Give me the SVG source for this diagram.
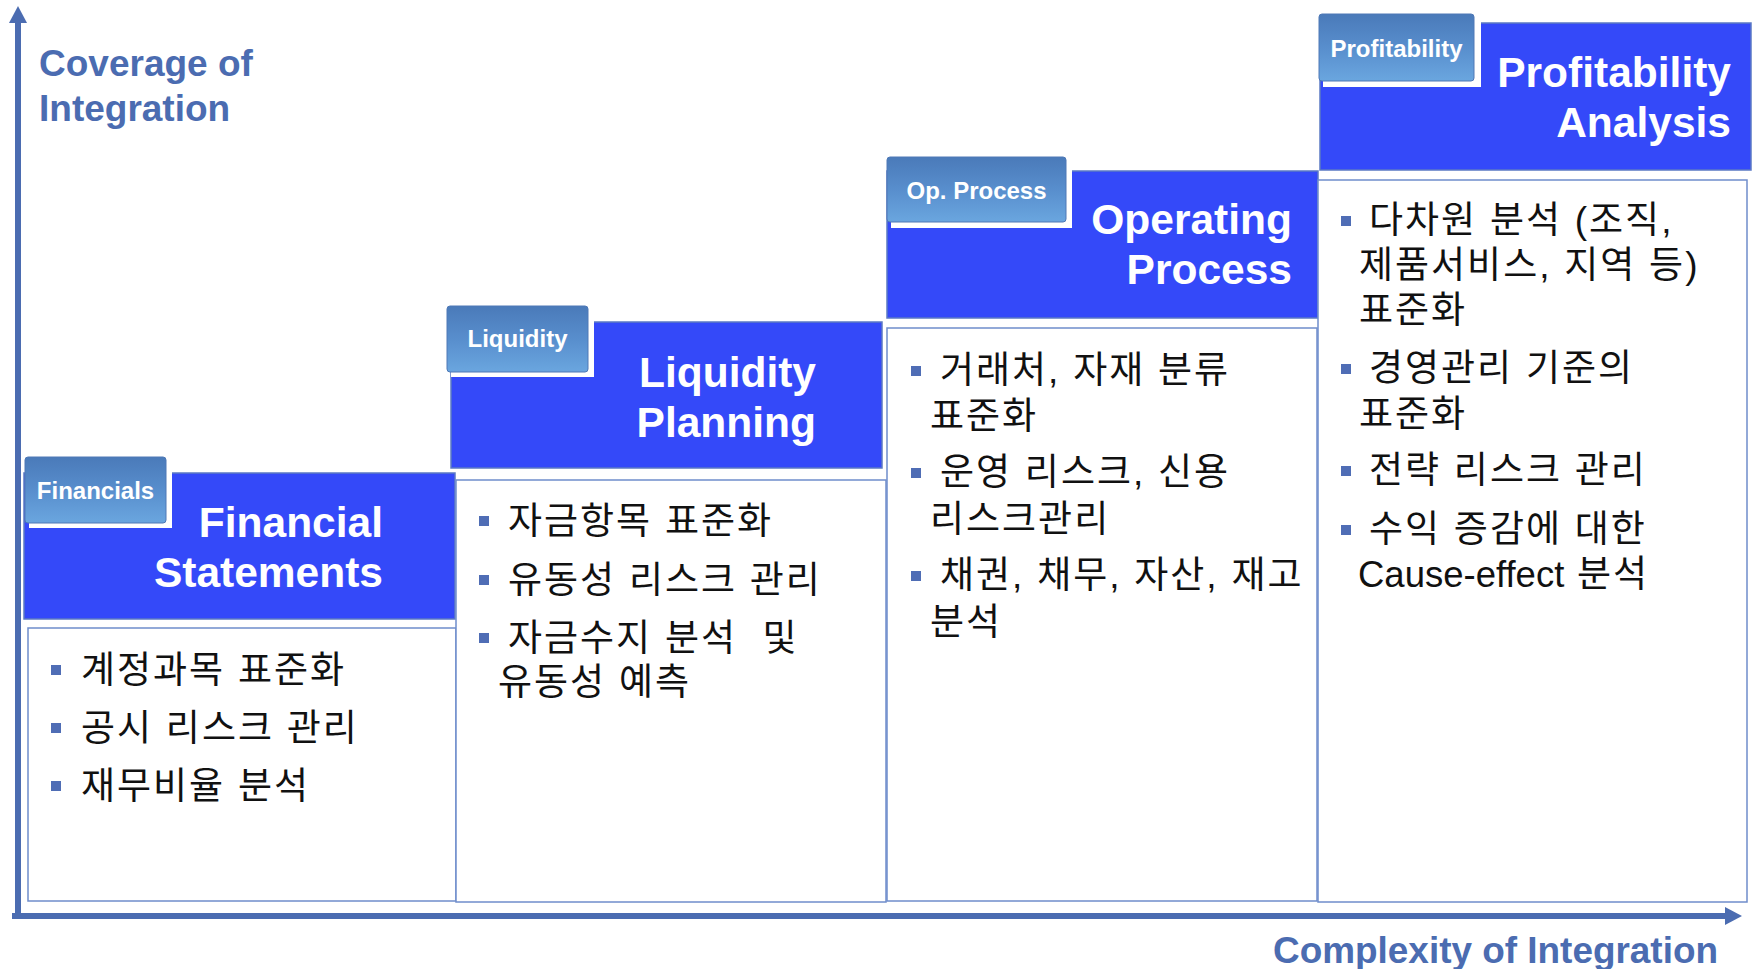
<svg xmlns="http://www.w3.org/2000/svg" width="1752" height="969" viewBox="0 0 1752 969">
<style>
.hdr{fill:#3449F9;stroke:#5B79C4;stroke-width:1.5}
.body{fill:#fff;stroke:#6F8DCB;stroke-width:1.5}
.tab{fill:url(#tabg);stroke:#4E78B6;stroke-width:1}
.tabsh{fill:#fff}
.tablbl{font-family:"Liberation Sans",Arial,sans-serif;font-weight:bold;font-size:24px;fill:#fff;text-anchor:middle}
.title{font-family:"Liberation Sans",Arial,sans-serif;font-weight:bold;font-size:42.5px;fill:#fff;text-anchor:end}
.axislbl{font-family:"Liberation Sans",Arial,sans-serif;font-weight:bold;font-size:37px;fill:#4B6CB1}
.item{font-family:"Liberation Sans","Noto Sans CJK KR",sans-serif;font-size:37px;fill:#111;letter-spacing:2px;word-spacing:0.5px;white-space:pre}
.lat{font-size:36.5px;letter-spacing:0}
.bul{fill:#4F6DB5}
.axis{stroke:#4B6CB1;stroke-width:6;fill:none}
</style>
<defs>
<linearGradient id="tabg" x1="0" y1="0" x2="0" y2="1">
<stop offset="0" stop-color="#4A7AB9"/>
<stop offset="0.5" stop-color="#588ECD"/>
<stop offset="1" stop-color="#6AA6DF"/>
</linearGradient>
<marker id="arr" markerUnits="userSpaceOnUse" markerWidth="18" markerHeight="18" refX="0" refY="9" orient="auto">
<path d="M0,0 L17,9 L0,18 z" fill="#4B6CB1"/>
</marker>
</defs>
<rect width="1752" height="969" fill="#fff"/>

<g id="financial">
<rect class="body" x="28" y="628" width="428" height="273"/>
<rect class="hdr" x="24" y="473" width="431" height="146"/>
<rect class="tabsh" x="29" y="461" width="143" height="67"/>
<rect class="tab" x="25" y="457" width="141" height="66" rx="3"/>
<text class="tablbl" x="95.5" y="499">Financials</text>
<text class="title" x="383" y="537">Financial</text>
<text class="title" x="383" y="587">Statements</text>
<rect class="bul" x="51" y="665" width="10" height="10"/>
<text class="item" x="81" y="683">계정과목 표준화</text>
<rect class="bul" x="51" y="723" width="10" height="10"/>
<text class="item" x="81" y="741">공시 리스크 관리</text>
<rect class="bul" x="51" y="781" width="10" height="10"/>
<text class="item" x="81" y="799">재무비율 분석</text>
</g>

<g id="liquidity">
<rect class="body" x="456" y="480" width="430" height="422"/>
<rect class="hdr" x="451" y="322" width="431" height="146"/>
<rect class="tabsh" x="451" y="310" width="143" height="67"/>
<rect class="tab" x="447" y="306" width="141" height="66" rx="3"/>
<text class="tablbl" x="517.5" y="347">Liquidity</text>
<text class="title" x="816" y="387">Liquidity</text>
<text class="title" x="816" y="437">Planning</text>
<rect class="bul" x="479" y="516" width="10" height="10"/>
<text class="item" x="508" y="534">자금항목 표준화</text>
<rect class="bul" x="479" y="575" width="10" height="10"/>
<text class="item" x="508" y="593">유동성 리스크 관리</text>
<rect class="bul" x="479" y="633" width="10" height="10"/>
<text class="item" x="508" y="651">자금수지 분석  및</text>
<text class="item" x="498" y="695">유동성 예측</text>
</g>

<g id="operating">
<rect class="body" x="887" y="328" width="430" height="573"/>
<rect class="hdr" x="887" y="171" width="431" height="147"/>
<rect class="tabsh" x="891" y="161" width="181" height="67"/>
<rect class="tab" x="887" y="157" width="179" height="65" rx="3"/>
<text class="tablbl" x="976.5" y="199">Op. Process</text>
<text class="title" x="1292" y="234">Operating</text>
<text class="title" x="1292" y="284">Process</text>
<rect class="bul" x="911" y="366" width="10" height="10"/>
<text class="item" x="940" y="383">거래처, 자재 분류</text>
<text class="item" x="930" y="429">표준화</text>
<rect class="bul" x="911" y="468" width="10" height="10"/>
<text class="item" x="940" y="485">운영 리스크, 신용</text>
<text class="item" x="930" y="532">리스크관리</text>
<rect class="bul" x="911" y="571" width="10" height="10"/>
<text class="item" x="940" y="588">채권, 채무, 자산, 재고</text>
<text class="item" x="930" y="635">분석</text>
</g>

<g id="profitability">
<rect class="body" x="1318" y="180" width="429" height="722"/>
<rect class="hdr" x="1320" y="23" width="431" height="147"/>
<rect class="tabsh" x="1323" y="18" width="158" height="69"/>
<rect class="tab" x="1319" y="14" width="155" height="67" rx="3"/>
<text class="tablbl" x="1396.5" y="57">Profitability</text>
<text class="title" x="1731" y="87">Profitability</text>
<text class="title" x="1731" y="137">Analysis</text>
<rect class="bul" x="1341" y="216" width="10" height="10"/>
<text class="item" x="1369" y="233">다차원 분석 (조직,</text>
<text class="item" x="1359" y="278">제품서비스, 지역 등)</text>
<text class="item" x="1359" y="323">표준화</text>
<rect class="bul" x="1341" y="364" width="10" height="10"/>
<text class="item" x="1369" y="381">경영관리 기준의</text>
<text class="item" x="1359" y="427">표준화</text>
<rect class="bul" x="1341" y="466" width="10" height="10"/>
<text class="item" x="1369" y="483">전략 리스크 관리</text>
<rect class="bul" x="1341" y="525" width="10" height="10"/>
<text class="item" x="1369" y="542">수익 증감에 대한</text>
<text class="item" x="1358" y="587"><tspan class="lat">Cause-effect</tspan> 분석</text>
</g>

<g id="connectors">
<line class="axis" x1="18" y1="919" x2="18" y2="23" stroke-width="5" marker-end="url(#arr)"/>
<line class="axis" x1="12" y1="916" x2="1725" y2="916" marker-end="url(#arr)"/>
</g>

<g id="labels">
<text class="axislbl" x="39" y="76">Coverage of</text>
<text class="axislbl" x="39" y="121">Integration</text>
<text class="axislbl" x="1273" y="963" font-size="38" textLength="445" lengthAdjust="spacingAndGlyphs">Complexity of Integration</text>
</g>
</svg>
